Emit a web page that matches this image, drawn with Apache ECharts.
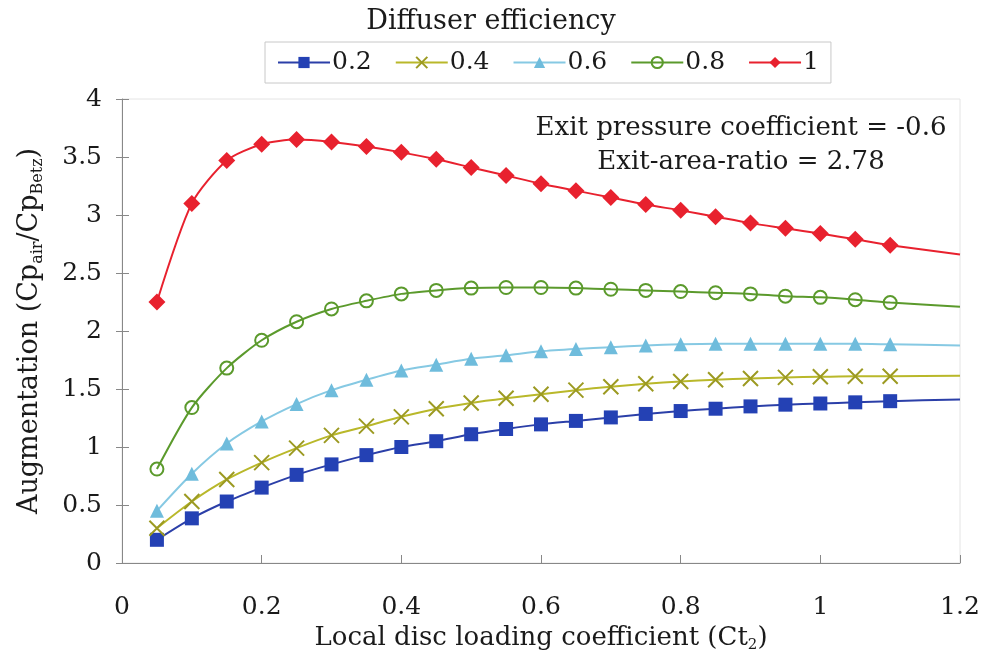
<!DOCTYPE html>
<html>
<head>
<meta charset="utf-8">
<script src="https://cdn.jsdelivr.net/npm/echarts@6/dist/echarts.min.js"></script>
<style>
  html, body { margin: 0; padding: 0; background: #fff; }
  #chart { width: 982px; height: 653px; }
</style>
</head>
<body>
<div id="chart"></div>
<script>
// local disc loading coefficient, last one is the line end (no marker)
var ctValues = [0.05, 0.1, 0.15, 0.2, 0.25, 0.3, 0.35, 0.4, 0.45, 0.5, 0.55, 0.6,
                0.65, 0.7, 0.75, 0.8, 0.85, 0.9, 0.95, 1.0, 1.05, 1.1, 1.2];

var seriesNames = ['0.2', '0.4', '0.6', '0.8', '1'];

var eff02 = [0.20, 0.385, 0.53, 0.65, 0.76, 0.85, 0.93, 1.00, 1.05, 1.11, 1.155, 1.195,
             1.225, 1.255, 1.285, 1.31, 1.33, 1.35, 1.365, 1.375, 1.385, 1.395, 1.41];
var eff04 = [0.30, 0.53, 0.72, 0.865, 0.99, 1.10, 1.18, 1.26, 1.33, 1.38, 1.42, 1.455,
             1.49, 1.52, 1.545, 1.565, 1.58, 1.59, 1.60, 1.605, 1.61, 1.61, 1.615];
var eff06 = [0.45, 0.77, 1.03, 1.22, 1.37, 1.49, 1.58, 1.66, 1.71, 1.76, 1.79, 1.825,
             1.845, 1.86, 1.875, 1.885, 1.89, 1.89, 1.89, 1.89, 1.89, 1.885, 1.875];
var eff08 = [0.81, 1.34, 1.68, 1.92, 2.08, 2.19, 2.26, 2.32, 2.35, 2.37, 2.375, 2.375,
             2.37, 2.36, 2.35, 2.34, 2.33, 2.32, 2.30, 2.29, 2.27, 2.245, 2.21];
var eff10 = [2.25, 3.10, 3.47, 3.61, 3.65, 3.63, 3.59, 3.54, 3.48, 3.41, 3.34, 3.27,
             3.21, 3.15, 3.09, 3.04, 2.985, 2.93, 2.885, 2.84, 2.79, 2.74, 2.66];

var notes = ['Exit pressure coefficient = -0.6', 'Exit-area-ratio = 2.78'];

var FONT = 'DejaVu Serif';
var INK = '#1a1a1a';

function toData(vals) {
  return vals.map(function (v, i) {
    var item = { value: [ctValues[i], v] };
    if (i === vals.length - 1) item.symbol = 'none';
    return item;
  });
}

var chart = echarts.init(document.getElementById('chart'));

var option = {
  backgroundColor: '#fff',
  animation: false,
  textStyle: { fontFamily: FONT, color: INK },
  title: {
    text: 'Diffuser efficiency',
    left: 'center',
    top: 3,
    textStyle: { fontFamily: FONT, fontSize: 27, fontWeight: 'normal', color: INK }
  },
  legend: {
    data: seriesNames,
    left: 265,
    top: 42,
    padding: [8, 12],
    itemGap: 23,
    itemWidth: 52,
    itemHeight: 14,
    borderColor: '#c8c8c8',
    borderWidth: 1,
    textStyle: { fontFamily: FONT, fontSize: 25, color: INK, padding: [0, 0, 0, -3] }
  },
  grid: {
    left: 122, right: 22, top: 99, bottom: 90,
    outerBoundsMode: 'none',
    show: true, borderColor: '#e4e4e4', borderWidth: 1
  },
  xAxis: {
    type: 'value',
    min: 0,
    max: 1.2,
    interval: 0.2,
    name: '{a|Local disc loading coefficient (Ct}{s|2}{a|)}',
    nameLocation: 'middle',
    nameGap: 57,
    nameTextStyle: {
      rich: {
        a: { fontFamily: FONT, fontSize: 26, color: INK, lineHeight: 30 },
        s: { fontFamily: FONT, fontSize: 15, color: INK, lineHeight: 30, verticalAlign: 'bottom' }
      }
    },
    axisLine: { lineStyle: { color: '#888', width: 1 } },
    axisTick: { inside: true, length: 8, lineStyle: { color: '#888' } },
    axisLabel: { fontFamily: FONT, fontSize: 25, color: INK, margin: 32 },
    splitLine: { show: false }
  },
  yAxis: [{
    type: 'value',
    min: 0,
    max: 4,
    interval: 0.5,
    name: '{a|Augmentation (Cp}{s|air}{a|/Cp}{s|Betz}{a|)}',
    nameLocation: 'middle',
    nameGap: 76,
    nameTextStyle: {
      rich: {
        a: { fontFamily: FONT, fontSize: 27, color: INK, lineHeight: 32 },
        s: { fontFamily: FONT, fontSize: 16, color: INK, lineHeight: 32, verticalAlign: 'bottom' }
      }
    },
    axisLine: { show: true, lineStyle: { color: '#888', width: 1 } },
    axisTick: { show: true, length: 6, lineStyle: { color: '#888' } },
    axisLabel: { fontFamily: FONT, fontSize: 25, color: INK, margin: 20 },
    splitLine: { show: false }
  }, {
    // inner half of the crossing ticks
    type: 'value',
    position: 'left',
    min: 0,
    max: 4,
    interval: 0.5,
    axisLine: { show: false },
    axisTick: { show: true, inside: true, length: 7, lineStyle: { color: '#888' } },
    axisLabel: { show: false },
    splitLine: { show: false }
  }],
  series: [
    {
      name: '0.2', type: 'line', smooth: 0.25, data: toData(eff02),
      symbol: 'rect', symbolSize: 14,
      lineStyle: { color: '#2b3fa8', width: 2 },
      itemStyle: { color: '#2441b4' }
    },
    {
      name: '0.4', type: 'line', smooth: 0.25, data: toData(eff04),
      symbol: 'path://M0,0L10,10M10,0L0,10', symbolSize: 15,
      lineStyle: { color: '#b9b82a', width: 2 },
      itemStyle: { color: 'rgba(0,0,0,0)', borderColor: '#9c9a22', borderWidth: 2 }
    },
    {
      name: '0.6', type: 'line', smooth: 0.25, data: toData(eff06),
      symbol: 'triangle', symbolSize: 14,
      lineStyle: { color: '#86c9e3', width: 2 },
      itemStyle: { color: '#6fbcdc' }
    },
    {
      name: '0.8', type: 'line', smooth: 0.25, data: toData(eff08),
      symbol: 'circle', symbolSize: 13,
      lineStyle: { color: '#5b9a2c', width: 2 },
      itemStyle: { color: 'rgba(0,0,0,0)', borderColor: '#5b9a2c', borderWidth: 2 }
    },
    {
      name: '1', type: 'line', smooth: 0.25, data: toData(eff10),
      symbol: 'diamond', symbolSize: 17,
      lineStyle: { color: '#e8212e', width: 2 },
      itemStyle: { color: '#e8212e' }
    }
  ]
};

option.graphic = notes.map(function (t, i) {
  return {
    type: 'text',
    x: 741,
    y: 128 + i * 34,
    style: {
      text: t,
      font: '26px "' + FONT + '"',
      fill: INK,
      align: 'center',
      verticalAlign: 'middle'
    }
  };
});

chart.setOption(option);
</script>
</body>
</html>
